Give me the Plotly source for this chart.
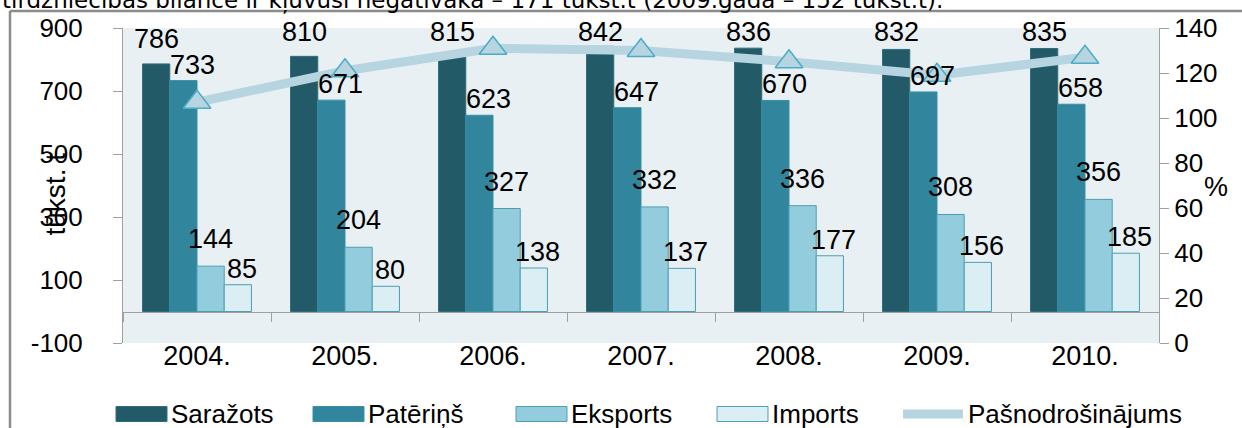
import plotly.graph_objects as go

# ---------------- data ----------------
years = ["2004.", "2005.", "2006.", "2007.", "2008.", "2009.", "2010."]
sarazots = [786, 810, 815, 842, 836, 832, 835]
paterins = [733, 671, 623, 647, 670, 697, 658]
eksports = [144, 204, 327, 332, 336, 308, 356]
imports_ = [85, 80, 138, 137, 177, 156, 185]
pasnodr = [107, 121, 131, 130, 125, 119, 127]
series_names = ["Saražots", "Patēriņš", "Eksports", "Imports"]
line_name = "Pašnodrošinājums"
left_ticks = [-100, 100, 300, 500, 700, 900]
right_ticks = [0, 20, 40, 60, 80, 100, 120, 140]
y_title = "tūkst. t"
y2_title = "%"
top_text = "tirdzniecības bilance ir kļuvusi negatīvāka – 171 tūkst.t (2009.gadā – 152 tūkst.t)."

# ---------------- style ----------------
W, H = 1242, 428
L, R, T, B = 123, 83, 28, 85
PW, PH = W - L - R, H - T - B
FONT = "Liberation Sans, Arial, sans-serif"
FS = 27
TICK_FS = 26
colors = ["#235A67", "#31859C", "#93CDDD", "#DBEEF4"]
edge = ["#2E6E7E", "#3A8FA5", "#4E9DB3", "#4E9DB3"]
line_col = "#B7D5E0"
mk_edge = "#4BACC6"
axis_col = "#A0A0A0"
BARGAP = 0.264
YMIN, YMAX = left_ticks[0], left_ticks[-1]
units_per_px = (YMAX - YMIN) / PH
bar_px = PW / len(years) * (1 - BARGAP) / 4
# label placement per series: gap above bar (px) and x shift (px)
lab_gap = [15, 6, 17, 6]
lab_dx = [0, 9, 0, 4]
cap_center_px = 32  # highest label centre (px from top)


def xp(px):
    return (px - L) / PW


def yp(py):
    return (H - B - py) / PH


fig = go.Figure()
all_series = [sarazots, paterins, eksports, imports_]
for i, vals in enumerate(all_series):
    fig.add_trace(go.Bar(
        x=years, y=vals, name=series_names[i],
        marker=dict(color=colors[i], line=dict(color=edge[i], width=1)),
        showlegend=False, hoverinfo="x+y",
    ))

fig.add_trace(go.Scatter(
    x=years, y=pasnodr, name=line_name, yaxis="y2",
    mode="lines+markers",
    line=dict(color=line_col, width=9),
    marker=dict(symbol="triangle-up", size=24, color=line_col,
                line=dict(color=mk_edge, width=1.5)),
    showlegend=False, cliponaxis=False,
))

# invisible trace carrying the category-label axis
fig.add_trace(go.Scatter(
    x=years, y=[0] * len(years), xaxis="x2", yaxis="y",
    mode="markers", marker=dict(opacity=0), showlegend=False, hoverinfo="skip",
))

annotations = []
cap_val = YMAX - (cap_center_px - T) * units_per_px
for i, vals in enumerate(all_series):
    for j, v in enumerate(vals):
        yv = v + (lab_gap[i] + 10) * units_per_px
        if i == 0:
            yv = min(yv, cap_val)
        annotations.append(dict(
            x=j, y=yv, xref="x2", yref="y", text=str(v),
            showarrow=False, xanchor="center", yanchor="middle",
            xshift=(i - 1.5) * bar_px + lab_dx[i],
            font=dict(family=FONT, size=FS, color="#000000"),
        ))

# axis titles
annotations.append(dict(x=xp(37), y=yp(194), xref="paper", yref="paper",
                        text=y_title, textangle=-90, showarrow=False,
                        font=dict(family=FONT, size=28, color="#000000")))
annotations.append(dict(x=xp(1230), y=yp(187), xref="paper", yref="paper",
                        text=y2_title, showarrow=False,
                        font=dict(family=FONT, size=FS, color="#000000")))
# cut-off text of the page above the chart
annotations.append(dict(x=xp(0), y=yp(0), xref="paper", yref="paper",
                        text=top_text, showarrow=False, xanchor="left", yanchor="middle",
                        font=dict(family="DejaVu Sans, sans-serif", size=23, color="#000000")))

shapes = []
# outer frame of the chart
shapes.append(dict(type="line", xref="paper", yref="paper",
                   x0=xp(10), x1=xp(1260), y0=yp(11), y1=yp(11),
                   line=dict(color="#8C8C8C", width=2.5)))
shapes.append(dict(type="line", xref="paper", yref="paper",
                   x0=xp(10), x1=xp(10), y0=yp(11), y1=yp(440),
                   line=dict(color="#8C8C8C", width=2.5)))

# custom legend
leg_y = 414
sw_x = [116, 313, 516, 717]
sw_w, sw_h = 51, 15
for i, name in enumerate(series_names):
    shapes.append(dict(type="rect", xref="paper", yref="paper",
                       x0=xp(sw_x[i]), x1=xp(sw_x[i] + sw_w),
                       y0=yp(leg_y + sw_h / 2), y1=yp(leg_y - sw_h / 2),
                       fillcolor=colors[i], line=dict(color=edge[i], width=1)))
    annotations.append(dict(x=xp(sw_x[i] + sw_w + 2), y=yp(leg_y), xref="paper", yref="paper",
                            text=name, showarrow=False, xanchor="left", yanchor="middle",
                            font=dict(family=FONT, size=26, color="#000000")))
lx0, lx1 = 903, 963
shapes.append(dict(type="line", xref="paper", yref="paper",
                   x0=xp(lx0), x1=xp(lx1), y0=yp(leg_y), y1=yp(leg_y),
                   line=dict(color=line_col, width=9)))
annotations.append(dict(x=xp(lx1 + 3), y=yp(leg_y), xref="paper", yref="paper",
                        text=line_name, showarrow=False, xanchor="left", yanchor="middle",
                        font=dict(family=FONT, size=26, color="#000000")))

fig.update_layout(
    width=W, height=H,
    margin=dict(l=L, r=R, t=T, b=B, pad=0),
    paper_bgcolor="#FFFFFF",
    plot_bgcolor="#E9F0F4",
    barmode="group", bargap=BARGAP, bargroupgap=0,
    font=dict(family=FONT, size=FS, color="#000000"),
    showlegend=False,
    xaxis=dict(type="category", range=[-0.5, len(years) - 0.5], anchor="free",
               position=(0 - YMIN) / (YMAX - YMIN),
               showline=True, linecolor=axis_col, linewidth=1,
               ticks="outside", tickson="boundaries", ticklen=9, tickcolor=axis_col,
               showticklabels=False, showgrid=False, zeroline=False),
    xaxis2=dict(type="category", range=[-0.5, len(years) - 0.5], overlaying="x",
                anchor="y", side="bottom", showline=False, ticks="", showgrid=False,
                ticklabelstandoff=-6,
                tickfont=dict(family=FONT, size=FS, color="#000000")),
    yaxis=dict(range=[YMIN, YMAX], tickvals=left_ticks,
               ticktext=[str(v) for v in left_ticks], showline=True,
               linecolor=axis_col, ticks="outside", ticklen=9, tickcolor=axis_col,
               ticklabelstandoff=25,
               showgrid=False, zeroline=False,
               tickfont=dict(family=FONT, size=TICK_FS, color="#000000")),
    yaxis2=dict(range=[right_ticks[0], right_ticks[-1]], tickvals=right_ticks,
                ticktext=[str(v) for v in right_ticks],
                overlaying="y", side="right", showline=True, linecolor=axis_col,
                ticks="outside", ticklen=9, tickcolor=axis_col, showgrid=False,
                zeroline=False, tickfont=dict(family=FONT, size=TICK_FS, color="#000000")),
    annotations=annotations,
    shapes=shapes,
)

# triangle marker of the line legend, on a hidden 0..1 axis pair
fig.add_trace(go.Scatter(
    x=[xp((lx0 + lx1) / 2)], y=[yp(leg_y)], xaxis="x3", yaxis="y3",
    mode="markers", marker=dict(symbol="triangle-up", size=23, color=line_col,
                                line=dict(color=mk_edge, width=1.5)),
    showlegend=False, hoverinfo="skip", cliponaxis=False,
))
fig.update_layout(
    xaxis3=dict(range=[0, 1], overlaying="x", visible=False, anchor="y3"),
    yaxis3=dict(range=[0, 1], overlaying="y", visible=False, anchor="x3"),
)

fig.write_html("out.html", config={"displayModeBar": False},
               post_script="document.body.style.margin='0';")
